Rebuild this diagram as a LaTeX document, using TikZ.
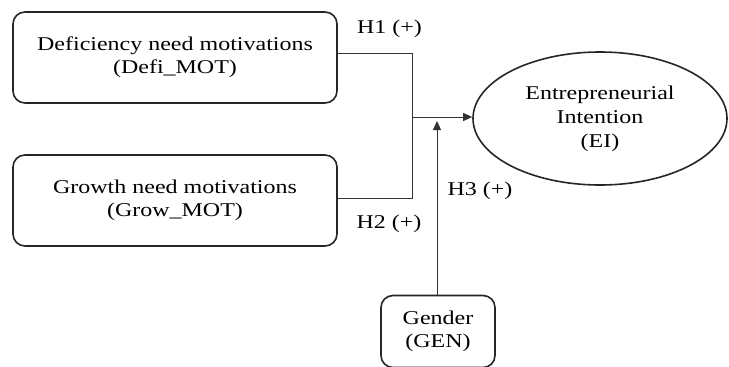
\documentclass[tikz,border=0pt]{standalone}
\usepackage{fontspec}
\setmainfont{Liberation Serif}[FakeStretch=1.23]
\usepackage{tikz}
\usetikzlibrary{shapes.geometric}
\usetikzlibrary{arrows.meta}

\begin{document}
\begin{tikzpicture}[x=1bp,y=-1bp,
	every node/.style={font=\fontsize{19.5bp}{23bp}\selectfont, text=black},
	boxnode/.style={rectangle, rounded corners=12bp, draw=black!85, line width=1.6bp, fill=white, align=center, inner sep=0pt},
	ovalnode/.style={ellipse, draw=black!85, line width=1.6bp, fill=white, align=center, inner sep=0pt, minimum width=254bp, minimum height=133bp},
	link/.style={draw=black!80, line width=1bp},
	]
	\useasboundingbox (0,0) rectangle (729,366);
	%Nodes
	\node[boxnode, minimum width=324bp, minimum height=91bp] (defi) at (175,57.5)  {Deficiency need motivations\\(Defi\_MOT)};
	\node[boxnode, minimum width=324bp, minimum height=91bp] (grow) at (175,200.5) {Growth need motivations\\(Grow\_MOT)};
	\node[ovalnode]                                          (ei)   at (600,118.5) {Entrepreneurial\\[1bp]Intention\\[1bp](EI)};
	\node[boxnode, minimum width=114bp, minimum height=72bp] (gen)  at (438,331.5) {Gender\\(GEN)};
	
	%Labels
	\node (h1) at (389.5,29)  {H1 (+)};
	\node (h2) at (389,224)   {H2 (+)};
	\node (h3) at (480,191)   {H3 (+)};
	
	%Joints
	\coordinate (j1)  at (412,53);
	\coordinate (j2)  at (412,198);
	\coordinate (mid) at (412,117);
	\coordinate (mod) at (437,121);
	
	%Lines
	\draw[link] (defi.east |- j1) -- (j1) -- (j2) -- (grow.east |- j2);
	\draw[link,-{Triangle[length=9bp,width=8bp]}] (mid) -- (ei.west |- mid);
	\draw[link,-{Triangle[length=9bp,width=8bp]}] (gen.north -| mod) -- (mod);
\end{tikzpicture}
\end{document}
